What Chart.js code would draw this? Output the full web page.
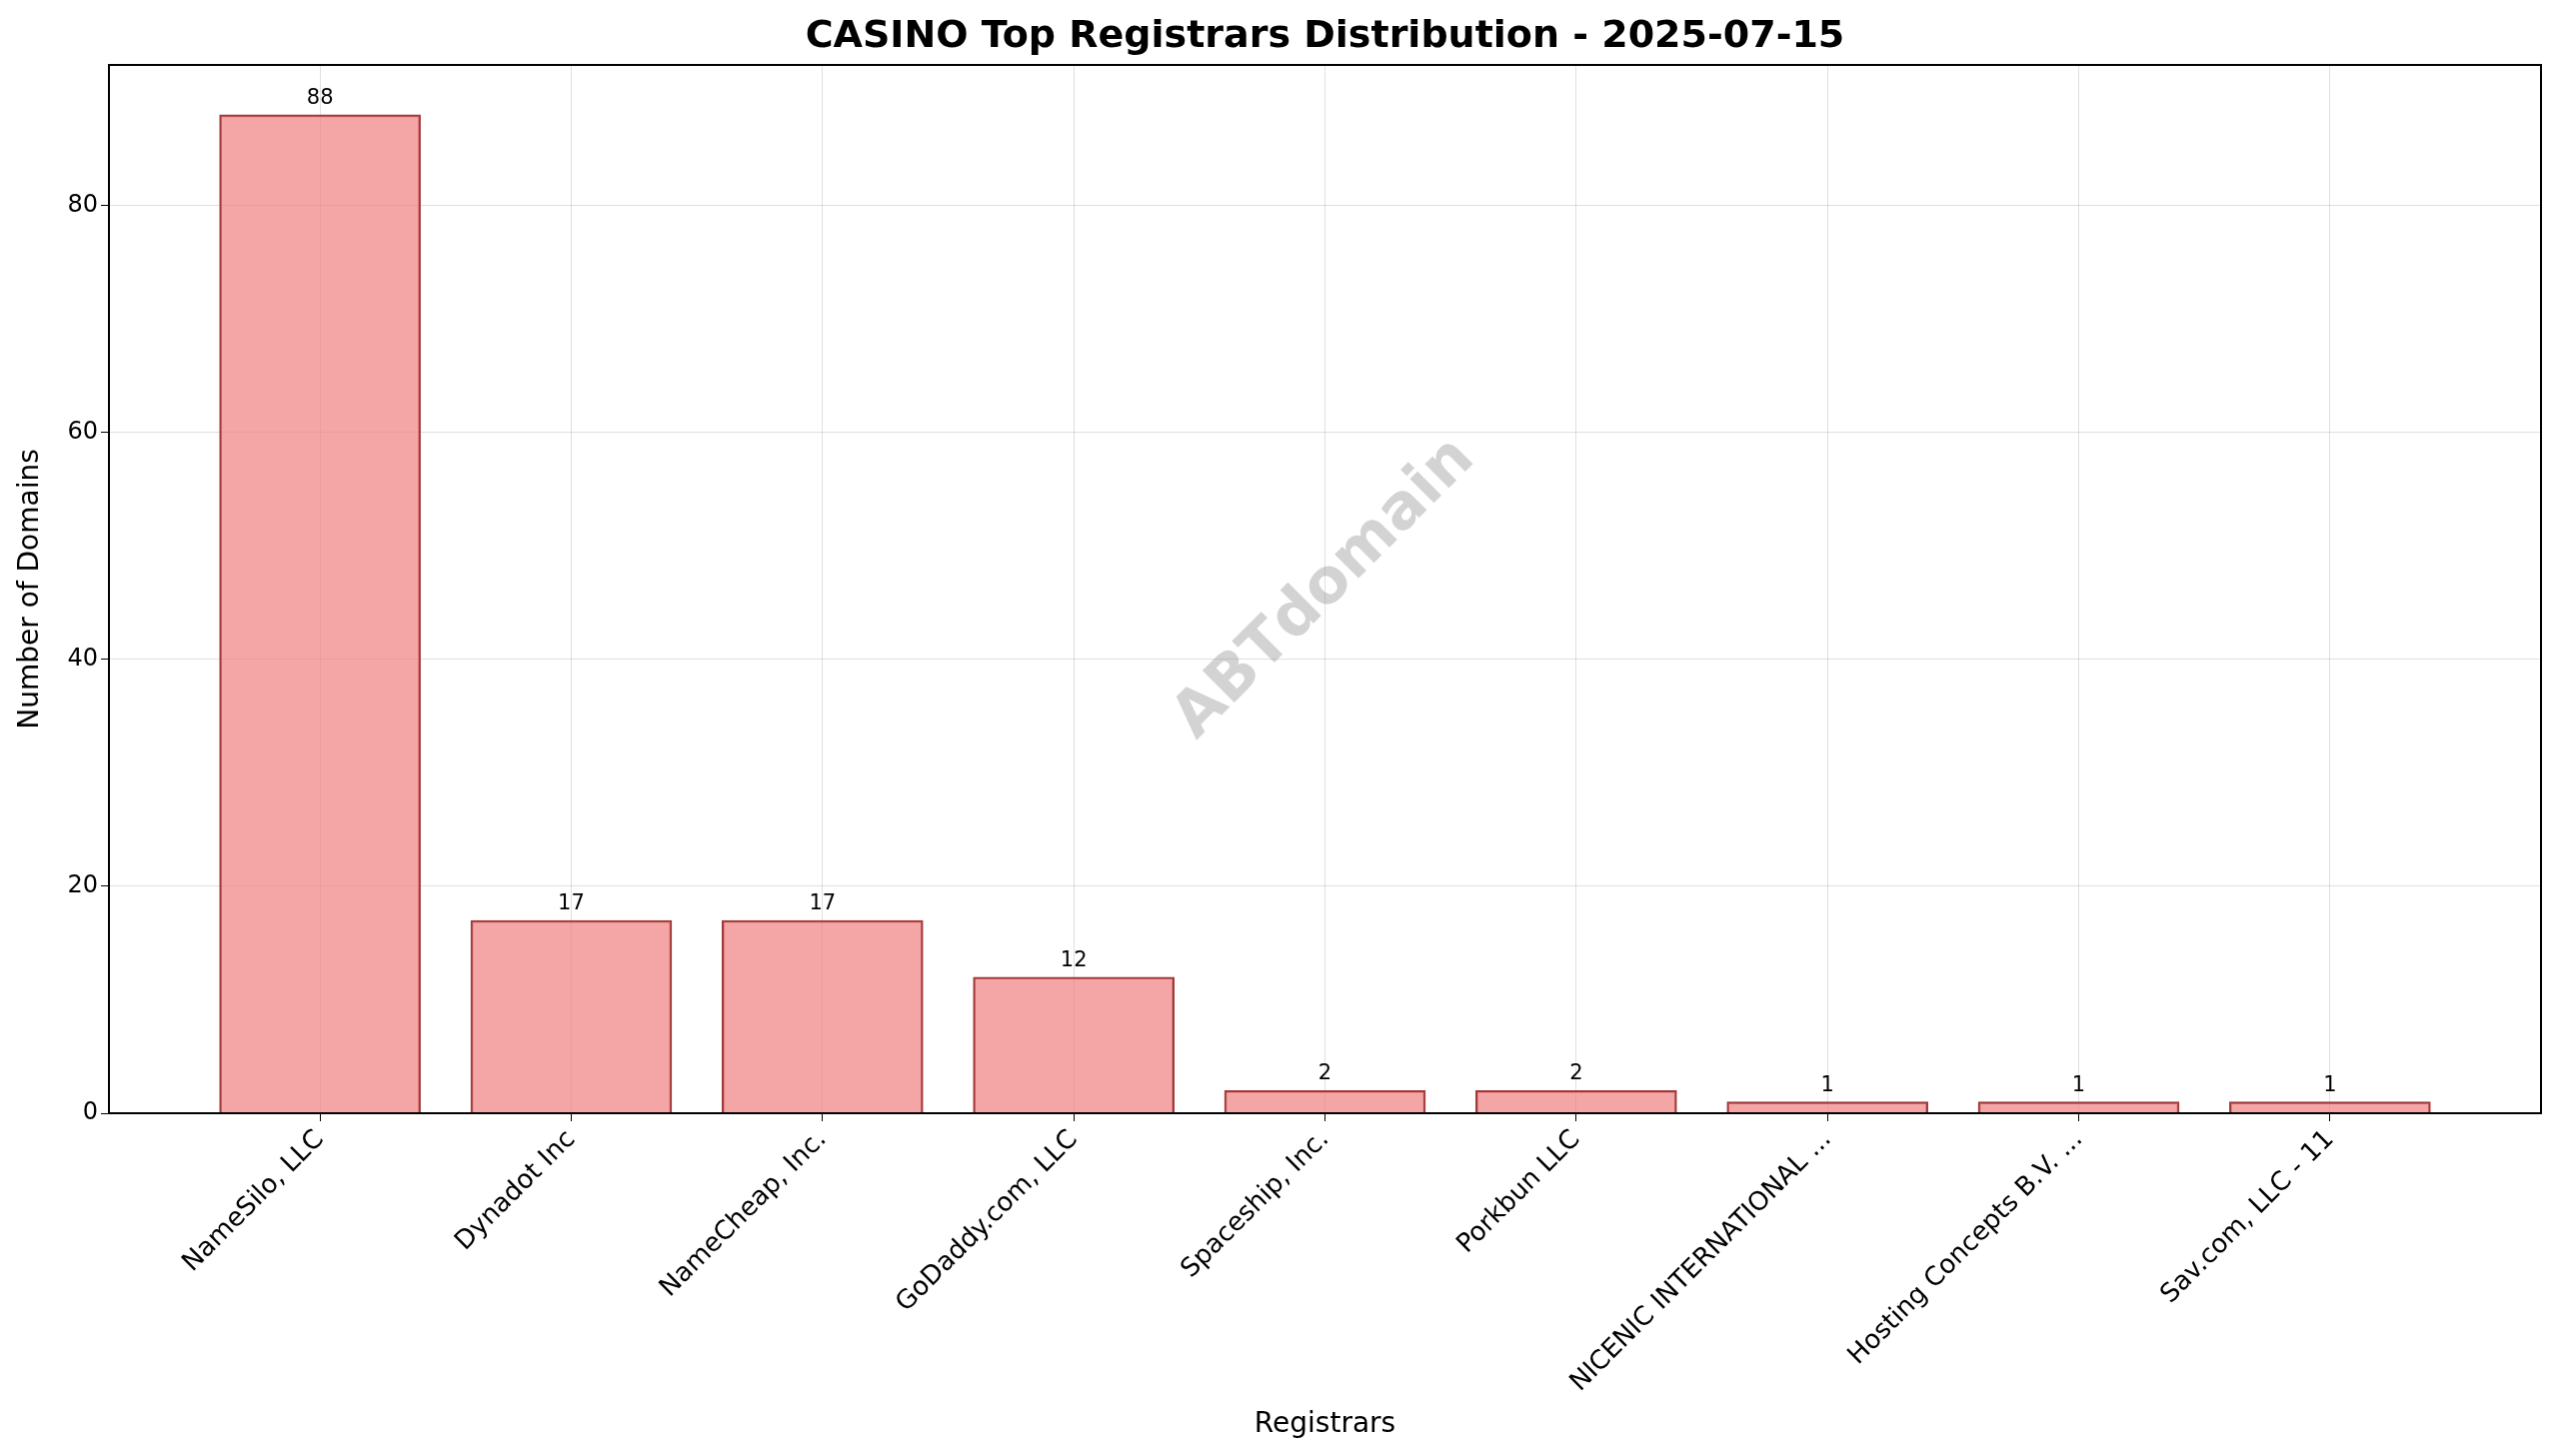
<!DOCTYPE html>
<html><head><meta charset="utf-8">
<script src="https://cdn.jsdelivr.net/npm/chart.js@4"></script>
<style>html,body{margin:0;padding:0;background:#fff}#w{width:2560px;height:1457px}</style>
</head><body><div id="w"><canvas id="c"></canvas></div>
<script>
const categories = ["NameSilo, LLC","Dynadot Inc","NameCheap, Inc.","GoDaddy.com, LLC","Spaceship, Inc.","Porkbun LLC","NICENIC INTERNATIONAL ...","Hosting Concepts B.V. ...","Sav.com, LLC - 11"];
const counts = [88,17,17,12,2,2,1,1,1];
const yTicks = [0,20,40,60,80];
const F = "'DejaVu Sans', sans-serif";
const extras = {
  id:'extras',
  afterDatasetsDraw(ch){
    const ctx=ch.ctx, meta=ch.getDatasetMeta(0);
    ctx.save();
    ctx.fillStyle='#000'; ctx.font='21px '+F; ctx.textAlign='center'; ctx.textBaseline='bottom';
    meta.data.forEach((b,i)=>ctx.fillText(String(counts[i]), b.x, b.y-6));
    ctx.translate(ch.chartArea.left+(ch.chartArea.right-ch.chartArea.left)*0.5, ch.chartArea.top+(ch.chartArea.bottom-ch.chartArea.top)*0.5);
    ctx.rotate(-Math.PI/4);
    ctx.fillStyle='rgba(128,128,128,0.35)'; ctx.font='bold 62px '+F; ctx.textBaseline='middle';
    ctx.fillText('ABTdomain',0,0);
    ctx.restore();
    ctx.save();
    ctx.fillStyle='#000'; ctx.font='bold 38px '+F; ctx.textAlign='center'; ctx.textBaseline='middle';
    ctx.fillText('CASINO Top Registrars Distribution - 2025-07-15',(ch.chartArea.left+ch.chartArea.right)/2,37);
    const a=ch.chartArea; ctx.strokeStyle='#000'; ctx.lineWidth=2; ctx.strokeRect(a.left,a.top,a.right-a.left,a.bottom-a.top);
    ctx.restore();
  }
};
new Chart(document.getElementById('c'),{
  type:'bar',
  data:{datasets:[{data:counts.map((v,i)=>({x:i,y:v})),backgroundColor:'rgba(240,128,128,0.7)',borderColor:'#A03A3A',borderWidth:2,barThickness:201}]},
  options:{responsive:true,maintainAspectRatio:false,animation:false,devicePixelRatio:1,
    layout:{padding:{top:65,right:18,left:0,bottom:0}},
    plugins:{legend:{display:false},tooltip:{enabled:false},title:{display:false}},
    scales:{
      x:{type:'linear',min:-0.84,max:8.84,offset:false,grid:{offset:false,color:'rgba(0,0,0,0.12)',tickColor:'#000',tickLength:8},border:{color:'#000',width:2},
        afterBuildTicks:s=>{s.ticks=categories.map((c,i)=>({value:i}));},
        ticks:{color:'#000',font:{family:F,size:26},minRotation:45,maxRotation:45,autoSkip:false,callback:(v)=>categories[v]},
        title:{display:true,text:'Registrars',color:'#000',font:{family:F,size:28},padding:{top:0,bottom:14}},
        afterFit:s=>{s.height=343;}},
      y:{min:0,max:92.4,grid:{color:'rgba(0,0,0,0.12)',tickColor:'#000',tickLength:8},border:{color:'#000',width:2},
        afterBuildTicks:s=>{s.ticks=yTicks.map(v=>({value:v}));},
        ticks:{color:'#000',font:{family:F,size:24}},
        title:{display:true,text:'Number of Domains',color:'#000',font:{family:F,size:28},padding:{top:14,bottom:0}},
        afterFit:s=>{s.width=109;}}
    }},
  plugins:[extras]
});
</script></body></html>
